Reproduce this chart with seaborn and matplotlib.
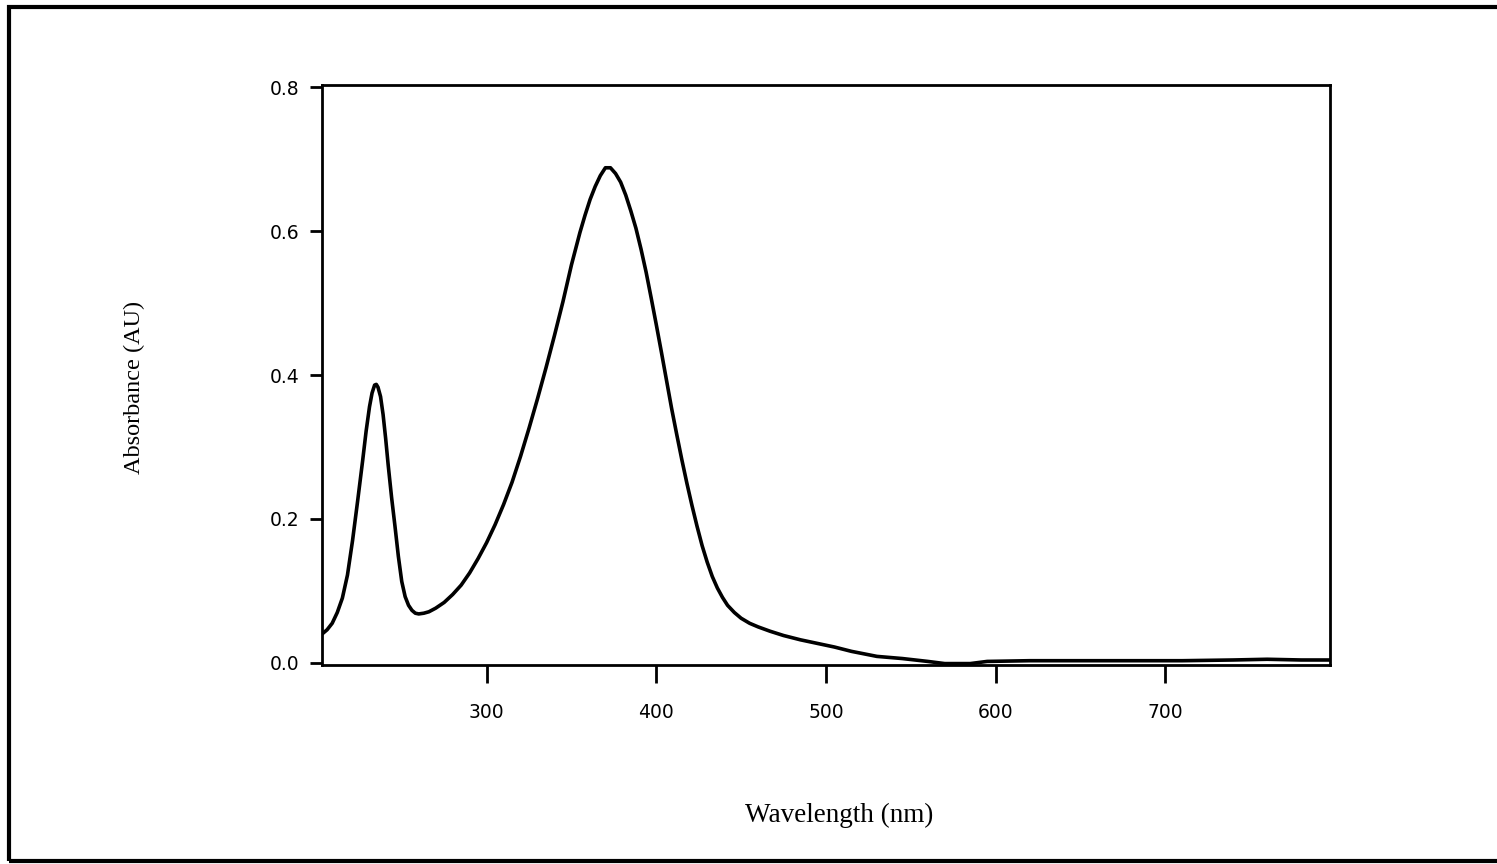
import pandas as pd
import matplotlib
matplotlib.use("Agg")
import matplotlib.pyplot as plt
import seaborn as sns
from matplotlib.patches import Rectangle

# spectrum
wavelength = [203, 206, 209, 212, 215, 218, 221, 224, 227, 229, 231, 232.5, 234, 235,
              236, 237.5, 239, 240.5, 242, 244, 246, 248, 250, 252, 254, 256, 258,
              260, 263, 266, 270, 275, 280, 285, 290, 295, 300, 305, 310, 315, 320,
              325, 330, 335, 340, 345, 350, 355, 358, 361, 364, 367, 370, 373, 376,
              379, 382, 385, 388, 391, 394, 397, 400, 403, 406, 409, 412, 415, 418,
              421, 424, 427, 430, 433, 436, 439, 442, 446, 450, 455, 460, 467, 475,
              485, 495, 505, 515, 530, 545, 560, 570, 585, 595, 620, 650, 680, 710,
              740, 760, 780, 797]
absorbance = [0.040, 0.046, 0.055, 0.070, 0.090, 0.122, 0.170, 0.225, 0.282, 0.322,
              0.356, 0.375, 0.386, 0.387, 0.383, 0.370, 0.345, 0.312, 0.275, 0.230,
              0.190, 0.148, 0.113, 0.092, 0.080, 0.073, 0.069, 0.068, 0.069, 0.071,
              0.076, 0.084, 0.095, 0.108, 0.125, 0.145, 0.167, 0.192, 0.220, 0.251,
              0.287, 0.326, 0.367, 0.410, 0.455, 0.502, 0.553, 0.598, 0.622, 0.644,
              0.662, 0.677, 0.688, 0.688, 0.680, 0.668, 0.650, 0.628, 0.604, 0.575,
              0.543, 0.507, 0.470, 0.432, 0.393, 0.354, 0.318, 0.283, 0.250, 0.219,
              0.190, 0.163, 0.140, 0.120, 0.104, 0.091, 0.080, 0.070, 0.062, 0.055,
              0.050, 0.044, 0.038, 0.032, 0.027, 0.022, 0.016, 0.009, 0.006, 0.002,
              -0.001, -0.001, 0.002, 0.003, 0.003, 0.003, 0.003, 0.004, 0.005, 0.004,
              0.004]

x_ticks = [300, 400, 500, 600, 700]
y_ticks = [0.0, 0.2, 0.4, 0.6, 0.8]

df = pd.DataFrame({"wavelength": wavelength, "absorbance": absorbance})

sns.set_style("ticks")
plt.rcParams["font.family"] = ["DejaVu Sans"]

fig = plt.figure(figsize=(14.97, 8.64), dpi=100)
ax = fig.add_axes([0.2151, 0.2303, 0.6733, 0.6713])

sns.lineplot(data=df, x="wavelength", y="absorbance", ax=ax, color="black",
             linewidth=2.6, sort=False)

ax.set_xlim(203, 797)
ax.set_ylim(-0.003, 0.803)
ax.set_xticks(x_ticks)
ax.set_yticks(y_ticks)
ax.set_xticklabels([str(t) for t in x_ticks])
ax.set_yticklabels([f"{t:.1f}" for t in y_ticks])

for side in ["top", "right", "bottom", "left"]:
    ax.spines[side].set_visible(True)
    ax.spines[side].set_linewidth(2.0)
    ax.spines[side].set_color("black")

ax.tick_params(axis="x", direction="out", length=13, width=2, pad=14,
               labelsize=13.5, colors="black")
ax.tick_params(axis="y", direction="out", length=9, width=2, pad=7,
               labelsize=13.5, colors="black")

ax.set_xlabel("Wavelength (nm)", family=["Liberation Serif"], fontsize=19.5,
              color="black")
ax.set_ylabel("Absorbance (AU)", family=["Liberation Serif"], fontsize=17.5,
              color="black")
ax.xaxis.set_label_coords(0.513, -0.238)
ax.yaxis.set_label_coords(-0.1756, 0.478)
ax.grid(False)

# frame around the whole figure (right edge cut off in the scan)
frame = Rectangle((9 / 1497, 3 / 864), 1.0, 854 / 864, transform=fig.transFigure,
                  fill=False, edgecolor="black", linewidth=3, clip_on=False)
fig.patches.append(frame)

fig.savefig("out.png", dpi=100)
